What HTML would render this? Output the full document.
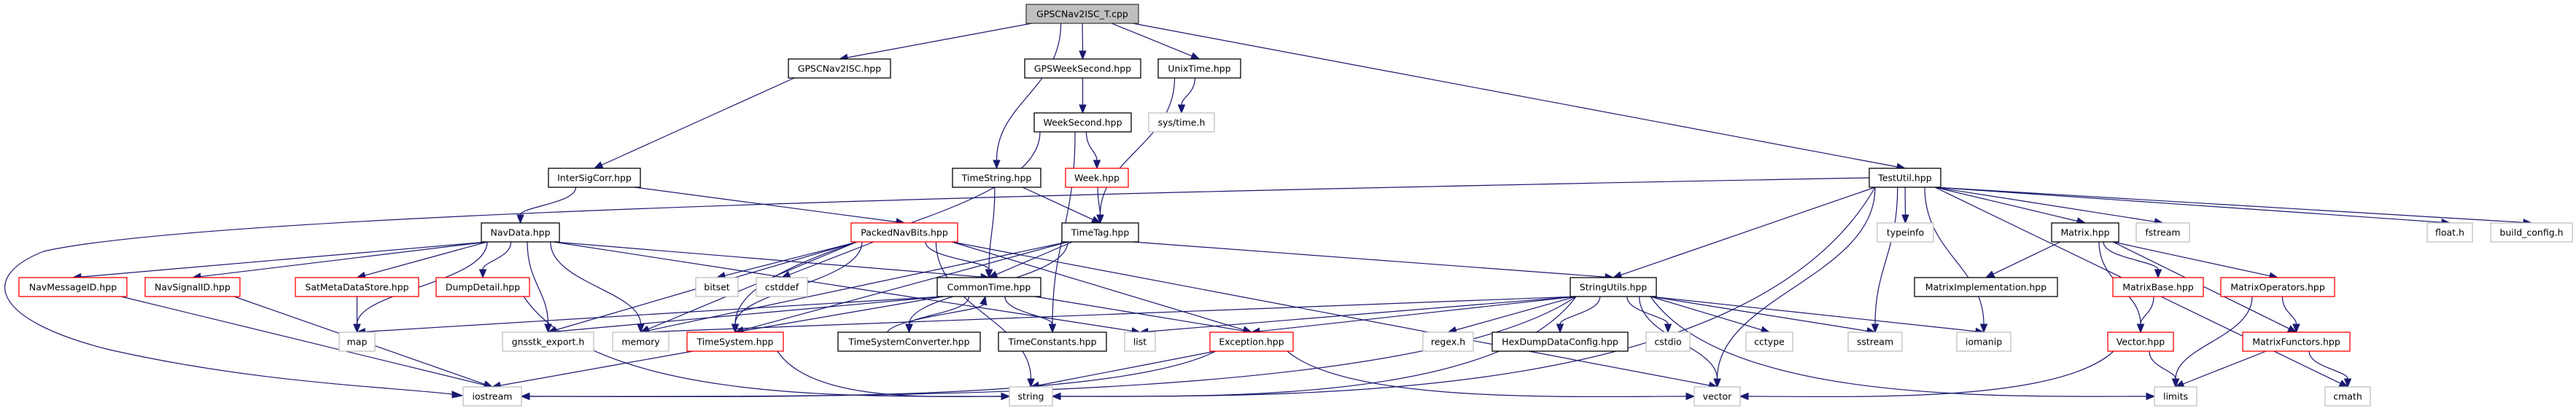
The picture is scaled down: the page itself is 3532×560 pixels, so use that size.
<!DOCTYPE html>
<html><head><meta charset="utf-8"><style>
html,body{margin:0;padding:0;background:#fff;}
svg{display:block;}
text{font-family:"DejaVu Sans","Liberation Sans",sans-serif;font-size:12.5px;fill:#000;}
</style></head><body>
<svg id="g" width="3532" height="560" viewBox="0 0 3532 560" xmlns="http://www.w3.org/2000/svg">
<g id="edges"></g>
<path d="M2563,244 C1600,262 300,290 60,345 C-30,380 -10,440 150,480 C350,525 520,530 620,541" fill="none" stroke="#191970" stroke-width="1.2"/>
<polygon points="634,543 620,537 620,546" fill="#191970" stroke="#191970"/>
<g id="nodes">
<rect x="1407" y="6" width="154" height="26" fill="#bfbfbf" stroke="#404040" stroke-width="1.3"/><text x="1484" y="23.5" text-anchor="middle">GPSCNav2ISC_T.cpp</text>
<rect x="1081" y="81" width="140" height="26" fill="#fff" stroke="#000" stroke-width="1.3"/><text x="1151" y="98.5" text-anchor="middle">GPSCNav2ISC.hpp</text>
<rect x="1405" y="81" width="159" height="26" fill="#fff" stroke="#000" stroke-width="1.3"/><text x="1484.5" y="98.5" text-anchor="middle">GPSWeekSecond.hpp</text>
<rect x="1588" y="81" width="113" height="26" fill="#fff" stroke="#000" stroke-width="1.3"/><text x="1644.5" y="98.5" text-anchor="middle">UnixTime.hpp</text>
<rect x="1418" y="155" width="133" height="26" fill="#fff" stroke="#000" stroke-width="1.3"/><text x="1484.5" y="172.5" text-anchor="middle">WeekSecond.hpp</text>
<rect x="1575" y="155" width="90" height="26" fill="#fff" stroke="#bfbfbf" stroke-width="1.3"/><text x="1620" y="172.5" text-anchor="middle">sys/time.h</text>
<rect x="752" y="231" width="126" height="26" fill="#fff" stroke="#000" stroke-width="1.3"/><text x="815" y="248.5" text-anchor="middle">InterSigCorr.hpp</text>
<rect x="1306" y="231" width="121" height="26" fill="#fff" stroke="#000" stroke-width="1.3"/><text x="1366.5" y="248.5" text-anchor="middle">TimeString.hpp</text>
<rect x="1461" y="231" width="86" height="26" fill="#fff" stroke="#ff0000" stroke-width="1.3"/><text x="1504" y="248.5" text-anchor="middle">Week.hpp</text>
<rect x="2563" y="231" width="98" height="26" fill="#fff" stroke="#000" stroke-width="1.3"/><text x="2612" y="248.5" text-anchor="middle">TestUtil.hpp</text>
<rect x="660" y="306" width="107" height="26" fill="#fff" stroke="#000" stroke-width="1.3"/><text x="713.5" y="323.5" text-anchor="middle">NavData.hpp</text>
<rect x="1167" y="306" width="146" height="26" fill="#fff" stroke="#ff0000" stroke-width="1.3"/><text x="1240" y="323.5" text-anchor="middle">PackedNavBits.hpp</text>
<rect x="1456" y="306" width="105" height="26" fill="#fff" stroke="#000" stroke-width="1.3"/><text x="1508.5" y="323.5" text-anchor="middle">TimeTag.hpp</text>
<rect x="2574" y="306" width="77" height="26" fill="#fff" stroke="#bfbfbf" stroke-width="1.3"/><text x="2612.5" y="323.5" text-anchor="middle">typeinfo</text>
<rect x="2813" y="306" width="92" height="26" fill="#fff" stroke="#000" stroke-width="1.3"/><text x="2859" y="323.5" text-anchor="middle">Matrix.hpp</text>
<rect x="2929" y="306" width="73" height="26" fill="#fff" stroke="#bfbfbf" stroke-width="1.3"/><text x="2965.5" y="323.5" text-anchor="middle">fstream</text>
<rect x="3328" y="306" width="62" height="26" fill="#fff" stroke="#bfbfbf" stroke-width="1.3"/><text x="3359" y="323.5" text-anchor="middle">float.h</text>
<rect x="3415" y="306" width="112" height="26" fill="#fff" stroke="#bfbfbf" stroke-width="1.3"/><text x="3471" y="323.5" text-anchor="middle">build_config.h</text>
<rect x="26" y="381" width="148" height="26" fill="#fff" stroke="#ff0000" stroke-width="1.3"/><text x="100" y="398.5" text-anchor="middle">NavMessageID.hpp</text>
<rect x="199" y="381" width="130" height="26" fill="#fff" stroke="#ff0000" stroke-width="1.3"/><text x="264" y="398.5" text-anchor="middle">NavSignalID.hpp</text>
<rect x="405" y="381" width="169" height="26" fill="#fff" stroke="#ff0000" stroke-width="1.3"/><text x="489.5" y="398.5" text-anchor="middle">SatMetaDataStore.hpp</text>
<rect x="598" y="381" width="128" height="26" fill="#fff" stroke="#ff0000" stroke-width="1.3"/><text x="662" y="398.5" text-anchor="middle">DumpDetail.hpp</text>
<rect x="954" y="381" width="58" height="26" fill="#fff" stroke="#bfbfbf" stroke-width="1.3"/><text x="983" y="398.5" text-anchor="middle">bitset</text>
<rect x="1037" y="381" width="70" height="26" fill="#fff" stroke="#bfbfbf" stroke-width="1.3"/><text x="1072" y="398.5" text-anchor="middle">cstddef</text>
<rect x="1285" y="381" width="142" height="26" fill="#fff" stroke="#000" stroke-width="1.3"/><text x="1356" y="398.5" text-anchor="middle">CommonTime.hpp</text>
<rect x="2153" y="381" width="118" height="26" fill="#fff" stroke="#000" stroke-width="1.3"/><text x="2212" y="398.5" text-anchor="middle">StringUtils.hpp</text>
<rect x="2625" y="381" width="196" height="26" fill="#fff" stroke="#000" stroke-width="1.3"/><text x="2723" y="398.5" text-anchor="middle">MatrixImplementation.hpp</text>
<rect x="2897" y="381" width="124" height="26" fill="#fff" stroke="#ff0000" stroke-width="1.3"/><text x="2959" y="398.5" text-anchor="middle">MatrixBase.hpp</text>
<rect x="3045" y="381" width="156" height="26" fill="#fff" stroke="#ff0000" stroke-width="1.3"/><text x="3123" y="398.5" text-anchor="middle">MatrixOperators.hpp</text>
<rect x="465" y="456" width="49" height="26" fill="#fff" stroke="#bfbfbf" stroke-width="1.3"/><text x="489.5" y="473.5" text-anchor="middle">map</text>
<rect x="689" y="456" width="125" height="26" fill="#fff" stroke="#bfbfbf" stroke-width="1.3"/><text x="751.5" y="473.5" text-anchor="middle">gnsstk_export.h</text>
<rect x="840" y="456" width="77" height="26" fill="#fff" stroke="#bfbfbf" stroke-width="1.3"/><text x="878.5" y="473.5" text-anchor="middle">memory</text>
<rect x="942" y="456" width="132" height="26" fill="#fff" stroke="#ff0000" stroke-width="1.3"/><text x="1008" y="473.5" text-anchor="middle">TimeSystem.hpp</text>
<rect x="1149" y="456" width="195" height="26" fill="#fff" stroke="#000" stroke-width="1.3"/><text x="1246.5" y="473.5" text-anchor="middle">TimeSystemConverter.hpp</text>
<rect x="1369" y="456" width="148" height="26" fill="#fff" stroke="#000" stroke-width="1.3"/><text x="1443" y="473.5" text-anchor="middle">TimeConstants.hpp</text>
<rect x="1542" y="456" width="42" height="26" fill="#fff" stroke="#bfbfbf" stroke-width="1.3"/><text x="1563" y="473.5" text-anchor="middle">list</text>
<rect x="1659" y="456" width="114" height="26" fill="#fff" stroke="#ff0000" stroke-width="1.3"/><text x="1716" y="473.5" text-anchor="middle">Exception.hpp</text>
<rect x="1951" y="456" width="69" height="26" fill="#fff" stroke="#bfbfbf" stroke-width="1.3"/><text x="1985.5" y="473.5" text-anchor="middle">regex.h</text>
<rect x="2046" y="456" width="186" height="26" fill="#fff" stroke="#000" stroke-width="1.3"/><text x="2139" y="473.5" text-anchor="middle">HexDumpDataConfig.hpp</text>
<rect x="2257" y="456" width="60" height="26" fill="#fff" stroke="#bfbfbf" stroke-width="1.3"/><text x="2287" y="473.5" text-anchor="middle">cstdio</text>
<rect x="2394" y="456" width="64" height="26" fill="#fff" stroke="#bfbfbf" stroke-width="1.3"/><text x="2426" y="473.5" text-anchor="middle">cctype</text>
<rect x="2534" y="456" width="74" height="26" fill="#fff" stroke="#bfbfbf" stroke-width="1.3"/><text x="2571" y="473.5" text-anchor="middle">sstream</text>
<rect x="2683" y="456" width="74" height="26" fill="#fff" stroke="#bfbfbf" stroke-width="1.3"/><text x="2720" y="473.5" text-anchor="middle">iomanip</text>
<rect x="2890" y="456" width="90" height="26" fill="#fff" stroke="#ff0000" stroke-width="1.3"/><text x="2935" y="473.5" text-anchor="middle">Vector.hpp</text>
<rect x="3075" y="456" width="147" height="26" fill="#fff" stroke="#ff0000" stroke-width="1.3"/><text x="3148.5" y="473.5" text-anchor="middle">MatrixFunctors.hpp</text>
<rect x="635" y="531" width="80" height="26" fill="#fff" stroke="#bfbfbf" stroke-width="1.3"/><text x="675" y="548.5" text-anchor="middle">iostream</text>
<rect x="1384" y="531" width="59" height="26" fill="#fff" stroke="#bfbfbf" stroke-width="1.3"/><text x="1413.5" y="548.5" text-anchor="middle">string</text>
<rect x="2323" y="531" width="63" height="26" fill="#fff" stroke="#bfbfbf" stroke-width="1.3"/><text x="2354.5" y="548.5" text-anchor="middle">vector</text>
<rect x="2954" y="531" width="58" height="26" fill="#fff" stroke="#bfbfbf" stroke-width="1.3"/><text x="2983" y="548.5" text-anchor="middle">limits</text>
<rect x="3188" y="531" width="62" height="26" fill="#fff" stroke="#bfbfbf" stroke-width="1.3"/><text x="3219" y="548.5" text-anchor="middle">cmath</text>
</g>
</svg>
<script>
var N={root:[1407,6,154],gpsc:[1081,81,140],gpsws:[1405,81,159],unix:[1588,81,113],ws:[1418,155,133],systime:[1575,155,90],
isc:[752,231,126],tstr:[1306,231,121],week:[1461,231,86],testutil:[2563,231,98],navdata:[660,306,107],pnb:[1167,306,146],
timetag:[1456,306,105],typeinfo:[2574,306,77],matrix:[2813,306,92],fstream:[2929,306,73],float:[3328,306,62],build:[3415,306,112],
nmid:[26,381,148],nsid:[199,381,130],smds:[405,381,169],dump:[598,381,128],bitset:[954,381,58],cstddef:[1037,381,70],ctime:[1285,381,142],
strutil:[2153,381,118],mimpl:[2625,381,196],mbase:[2897,381,124],mops:[3045,381,156],map:[465,456,49],gexp:[689,456,125],memory:[840,456,77],
tsys:[942,456,132],tsc:[1149,456,195],tconst:[1369,456,148],list:[1542,456,42],exc:[1659,456,114],regex:[1951,456,69],hex:[2046,456,186],
cstdio:[2257,456,60],cctype:[2394,456,64],sstream:[2534,456,74],iomanip:[2683,456,74],vec:[2890,456,90],mfunc:[3075,456,147],
iostream:[635,531,80],string:[1384,531,59],vector:[2323,531,63],limits:[2954,531,58],cmath:[3188,531,62]};
var E="root>gpsc root>tstr root>gpsws root>unix root>testutil gpsc>isc isc>navdata isc>pnb gpsws>ws ws>week ws>tsys ws>tconst unix>systime unix>timetag "+
"tstr>ctime tstr>timetag week>timetag timetag>ctime timetag>strutil timetag>tsys timetag>tsc timetag>memory "+
"testutil>strutil testutil>string:r testutil>typeinfo testutil>sstream testutil>vector testutil>iomanip testutil>matrix testutil>fstream testutil>float testutil>build testutil>cmath "+
"navdata>nmid navdata>nsid navdata>map navdata>smds navdata>dump navdata>gexp navdata>memory navdata>ctime navdata>list "+
"pnb>bitset pnb>cstddef pnb>ctime pnb>memory pnb>tsys pnb>exc pnb>vector pnb>string pnb>gexp "+
"nmid>iostream nsid>iostream smds>map dump>string:l tsys>iostream tsys>string:l "+
"ctime>tsc ctime>tconst ctime>exc ctime>tsys ctime>gexp ctime>map tsc>ctime:u "+
"exc>string exc>vector:l exc>iostream:r "+
"strutil>list strutil>regex strutil>hex strutil>cstdio strutil>cctype strutil>sstream strutil>iomanip strutil>limits:l strutil>vector strutil>string:r strutil>exc strutil>iostream:r strutil>memory "+
"matrix>mimpl matrix>mbase matrix>mops matrix>vec matrix>mfunc mbase>vec mops>limits mops>mfunc vec>limits vec>vector:r mfunc>limits mfunc>cmath";
var C="#191970",out="";
E.split(" ").forEach(function(e){
 var p=e.split(">"),s=N[p[0]],q=p[1].split(":"),t=N[q[0]],m=q[1]||"t",H=26;
 var scx=s[0]+s[2]/2,tcx=t[0]+t[2]/2,sx,sy,tx,ty,c1x,c1y,c2x,c2y;
 if(m=="u"){sx=scx-30;sy=s[1];tx=tcx-5;ty=t[1]+H;c1x=sx+10;c1y=sy-20;c2x=tx-5;c2y=ty+20;}
 else{
  sx=scx+(tcx-scx)*0.25;sx=Math.max(s[0]+8,Math.min(s[0]+s[2]-8,sx));sy=s[1]+H;
  if(m=="t"){tx=tcx;ty=t[1];var dy=ty-sy;c1x=sx;c1y=sy+dy*0.45;c2x=tx;c2y=ty-dy*0.45;
   if(Math.abs(tx-sx)>dy*2){c1x=sx+(tx-sx)*0.3;c2x=tx-(tx-sx)*0.3;c1y=sy+dy*0.3;c2y=ty-dy*0.3;}}
  else if(m=="r"){tx=t[0]+t[2];ty=t[1]+H/2;c1x=sx+(tx-sx)*0.15;c1y=ty+10;c2x=tx+(sx-tx)*0.3;c2y=ty;}
  else{tx=t[0];ty=t[1]+H/2;c1x=sx+(tx-sx)*0.15;c1y=ty+10;c2x=tx-(tx-sx)*0.3;c2y=ty;}
 }
 var dx=tx-c2x,dyy=ty-c2y,L=Math.sqrt(dx*dx+dyy*dyy)||1;dx/=L;dyy/=L;
 var al=11,aw=4.5,bx=tx-dx*al,by=ty-dyy*al;
 out+='<path d="M'+sx.toFixed(1)+','+sy.toFixed(1)+' C'+c1x.toFixed(1)+','+c1y.toFixed(1)+' '+c2x.toFixed(1)+','+c2y.toFixed(1)+' '+bx.toFixed(1)+','+by.toFixed(1)+'" fill="none" stroke="'+C+'" stroke-width="1.2"/>';
 out+='<polygon points="'+tx.toFixed(1)+','+ty.toFixed(1)+' '+(bx-dyy*aw).toFixed(1)+','+(by+dx*aw).toFixed(1)+' '+(bx+dyy*aw).toFixed(1)+','+(by-dx*aw).toFixed(1)+'" fill="'+C+'" stroke="'+C+'"/>';
});
document.getElementById("edges").innerHTML=out;
</script>
</body></html>
